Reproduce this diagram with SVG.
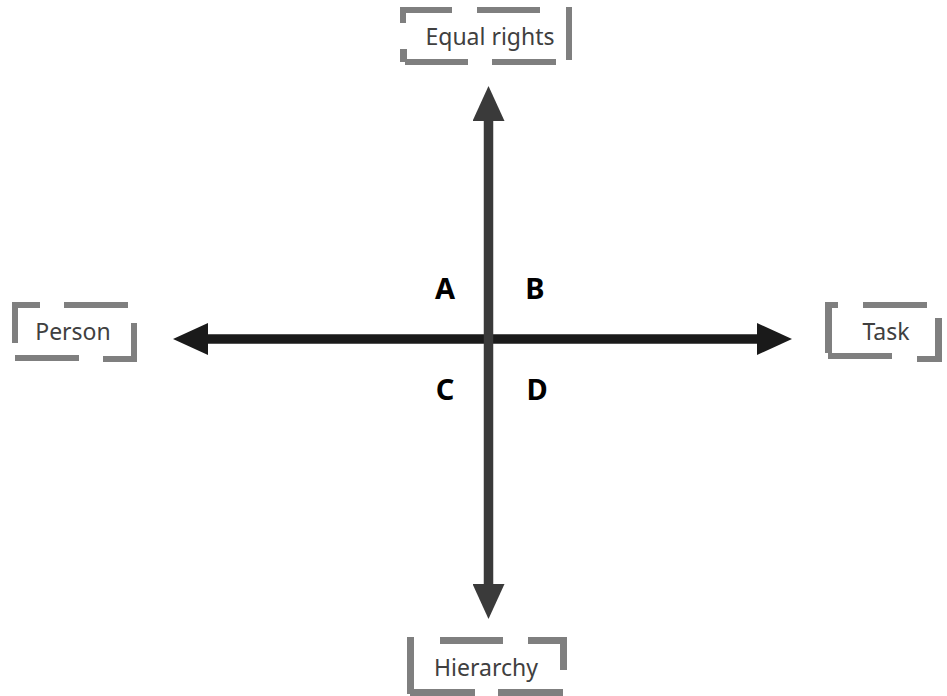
<svg xmlns="http://www.w3.org/2000/svg" width="947" height="696" viewBox="0 0 947 696">
  <style>
    .br { fill: #7f7f7f; }
    .lbl { font-family: "Noto Sans", "Open Sans", sans-serif; font-size: 23px; fill: #404040; text-anchor: middle; }
    .q { font-family: "Noto Sans", "Liberation Sans", sans-serif; font-size: 29px; font-weight: bold; fill: #000; text-anchor: middle; }
  </style>
  <defs>
    <marker id="headH" markerUnits="userSpaceOnUse" markerWidth="36" markerHeight="32" refX="1" refY="16" orient="auto-start-reverse">
      <path d="M0,0 L35,16 L0,32 z" fill="#1a1a1a"/>
    </marker>
    <marker id="headV" markerUnits="userSpaceOnUse" markerWidth="36" markerHeight="32" refX="1" refY="16" orient="auto-start-reverse">
      <path d="M0,0 L35,16 L0,32 z" fill="#3a3a3a"/>
    </marker>
  </defs>
  <rect width="947" height="696" fill="#ffffff"/>

  <g id="connectors">
    <line x1="207" y1="339" x2="758" y2="339" stroke="#1a1a1a" stroke-width="9.5" marker-start="url(#headH)" marker-end="url(#headH)"/>
    <line x1="488.5" y1="120" x2="488.5" y2="585" stroke="#3a3a3a" stroke-width="9.5" marker-start="url(#headV)" marker-end="url(#headV)"/>
  </g>

  <g id="node-equal-rights">
    <rect class="br" x="400" y="7" width="6" height="16"/>
    <rect class="br" x="400" y="7" width="52" height="6"/>
    <rect class="br" x="477" y="7" width="63" height="6"/>
    <rect class="br" x="566" y="7" width="6" height="53"/>
    <rect class="br" x="400" y="49" width="7" height="13"/>
    <rect class="br" x="405" y="59" width="63" height="6"/>
    <rect class="br" x="492" y="59" width="64" height="6"/>
    <text class="lbl" x="490" y="45">Equal rights</text>
  </g>

  <g id="node-person">
    <rect class="br" x="12" y="302" width="6" height="41"/>
    <rect class="br" x="12" y="302" width="28" height="6"/>
    <rect class="br" x="64" y="302" width="64" height="6"/>
    <rect class="br" x="131" y="323" width="6" height="39"/>
    <rect class="br" x="103" y="356" width="34" height="6"/>
    <rect class="br" x="15" y="355" width="64" height="6"/>
    <text class="lbl" x="73" y="340">Person</text>
  </g>

  <g id="node-task">
    <rect class="br" x="825" y="302" width="7" height="51"/>
    <rect class="br" x="825" y="302" width="13" height="6"/>
    <rect class="br" x="863" y="302" width="64" height="6"/>
    <rect class="br" x="935" y="318" width="7" height="44"/>
    <rect class="br" x="917" y="356" width="25" height="6"/>
    <rect class="br" x="828" y="353" width="64" height="6"/>
    <text class="lbl" x="886" y="340">Task</text>
  </g>

  <g id="node-hierarchy">
    <rect class="br" x="407" y="637" width="7" height="57"/>
    <rect class="br" x="440" y="637" width="63" height="7"/>
    <rect class="br" x="528" y="637" width="39" height="7"/>
    <rect class="br" x="560" y="637" width="7" height="33"/>
    <rect class="br" x="410" y="689" width="65" height="7"/>
    <rect class="br" x="498" y="689" width="65" height="7"/>
    <text class="lbl" x="486" y="676">Hierarchy</text>
  </g>

  <g id="quadrant-labels">
    <text class="q" x="445" y="299">A</text>
    <text class="q" x="535" y="299">B</text>
    <text class="q" x="445" y="400">C</text>
    <text class="q" x="537" y="400">D</text>
  </g>
</svg>
